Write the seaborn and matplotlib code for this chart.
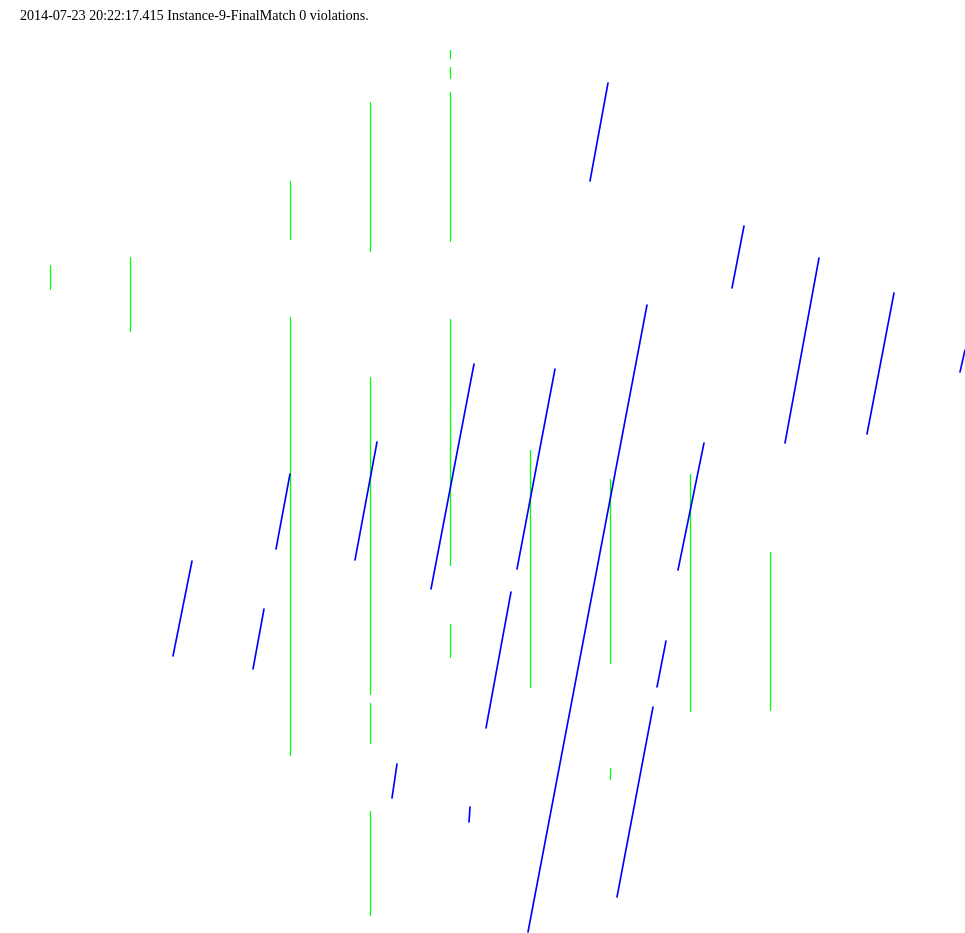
import matplotlib
matplotlib.use("Agg")
import matplotlib.pyplot as plt
import seaborn as sns
import pandas as pd

title = "2014-07-23 20:22:17.415 Instance-9-FinalMatch 0 violations."

# Green vertical segments: x position, top y, bottom y
green_x   = [50, 130, 290, 290, 370, 370, 370, 370, 450, 450, 450, 450, 450, 530, 610, 610, 690, 770]
green_top = [265, 257, 181, 317, 102, 377, 703, 811, 50, 67, 92, 319, 624, 450, 479, 768, 474, 552]
green_bot = [289, 331, 239, 755, 251, 694, 743, 915, 58, 78, 241, 565, 657, 687, 663, 779, 711, 710]

# Blue slanted segments: top end (x, y) and bottom end (x, y)
blue_x_top = [608, 744, 819, 894, 965, 647, 474, 555, 377, 290, 704, 192, 264, 511, 666, 653, 397, 470]
blue_y_top = [83, 226, 258, 293, 350, 305, 364, 369, 442, 474, 443, 561, 609, 592, 641, 707, 764, 807]
blue_x_bot = [590, 732, 785, 867, 960, 528, 431, 517, 355, 276, 678, 173, 253, 486, 657, 617, 392, 469]
blue_y_bot = [181, 288, 443, 434, 372, 932, 589, 569, 560, 549, 570, 656, 669, 728, 687, 897, 798, 822]

rows = []
for i, (x, a, b) in enumerate(zip(green_x, green_top, green_bot)):
    rows.append(dict(seg=f"g{i}", kind="green", x=x, y=a, o=0))
    rows.append(dict(seg=f"g{i}", kind="green", x=x, y=b, o=1))
for i, (x0, y0, x1, y1) in enumerate(zip(blue_x_top, blue_y_top, blue_x_bot, blue_y_bot)):
    rows.append(dict(seg=f"b{i}", kind="blue", x=x0, y=y0, o=0))
    rows.append(dict(seg=f"b{i}", kind="blue", x=x1, y=y1, o=1))
df = pd.DataFrame(rows)

sns.set_style("white")
fig = plt.figure(figsize=(9.65, 9.33), dpi=100)
ax = fig.add_axes([0, 0, 1, 1])

sns.lineplot(data=df[df.kind == "green"], x="x", y="y", units="seg", estimator=None,
             sort=False, color="#00ff00", linewidth=0.9, ax=ax, legend=False)
sns.lineplot(data=df[df.kind == "blue"], x="x", y="y", units="seg", estimator=None,
             sort=False, color="#0000ff", linewidth=1.2, ax=ax, legend=False)

ax.set_xlim(0, 965)
ax.set_ylim(933, 0)
ax.axis("off")

fig.text(20 / 965, 1 - 16 / 933, title, ha="left", va="center",
         fontsize=10.2, family="Liberation Serif", color="black")

fig.savefig("out.png", dpi=100, facecolor="white")
